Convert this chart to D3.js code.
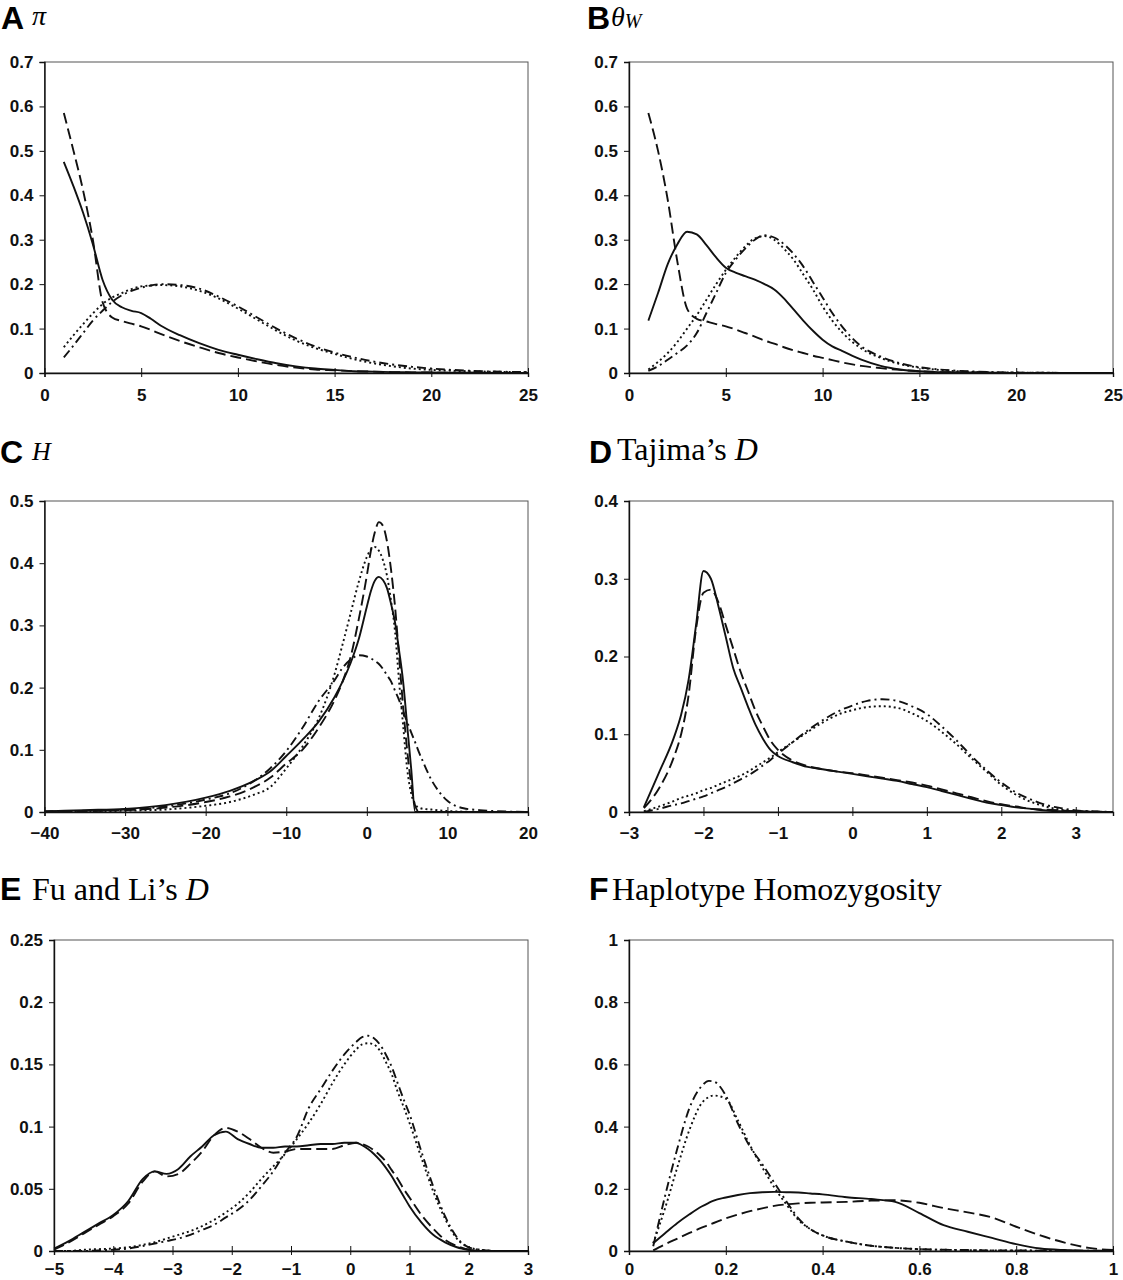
<!DOCTYPE html>
<html>
<head>
<meta charset="utf-8">
<script src="https://cdn.jsdelivr.net/npm/d3@7"></script>
<style>
  body { margin: 0; background: #fff; }
  .tick text { font-family: "Liberation Sans", Arial, sans-serif; font-size: 17px; font-weight: bold; fill: #111; }
</style>
</head>
<body>
<svg id="fig" width="1123" height="1280"></svg>
<script>
// ---- panel A : pi ----
const aX = [1,1.5,2,2.5,3,3.5,4,4.5,5,5.5,6,7,8,9,10,11,12,13,14,15,16,17,18,19,20,22,25];
const aSolid   = [0.475,0.42,0.36,0.29,0.21,0.165,0.148,0.14,0.135,0.122,0.107,0.085,0.067,0.052,0.041,0.031,0.022,0.015,0.01,0.007,0.004,0.003,0.002,0.0015,0.001,0.0005,0];
const aDashed  = [0.585,0.5,0.41,0.30,0.16,0.125,0.117,0.111,0.105,0.097,0.088,0.072,0.058,0.045,0.035,0.026,0.018,0.012,0.008,0.006,0.004,0.003,0.002,0.0015,0.001,0.0005,0];
const aDotted  = [0.058,0.085,0.11,0.134,0.155,0.17,0.18,0.189,0.195,0.197,0.198,0.195,0.185,0.168,0.145,0.12,0.095,0.073,0.056,0.043,0.031,0.022,0.015,0.01,0.007,0.004,0.002];
const aDashDot = [0.035,0.062,0.09,0.118,0.14,0.16,0.175,0.185,0.192,0.197,0.2,0.198,0.19,0.172,0.15,0.125,0.1,0.078,0.06,0.046,0.035,0.026,0.019,0.014,0.01,0.005,0.002];

// ---- panel B : theta W ----
const bX = [1,1.5,2,2.5,3,3.5,4,4.5,5,5.5,6,6.5,7,7.5,8,8.5,9,9.5,10,10.5,11,12,13,14,15,16,17,18,20,25];
const bSolid   = [0.118,0.18,0.245,0.29,0.318,0.312,0.288,0.26,0.237,0.226,0.218,0.21,0.2,0.188,0.168,0.143,0.118,0.095,0.075,0.06,0.05,0.03,0.016,0.008,0.004,0.002,0.0015,0.001,0,0];
const bDashed  = [0.585,0.5,0.39,0.25,0.145,0.122,0.116,0.11,0.105,0.098,0.09,0.082,0.073,0.066,0.058,0.051,0.045,0.039,0.034,0.029,0.024,0.016,0.011,0.007,0.004,0.002,0.0015,0.001,0,0];
const bDotted  = [0.008,0.025,0.045,0.07,0.1,0.13,0.165,0.2,0.232,0.26,0.285,0.303,0.308,0.3,0.28,0.255,0.222,0.188,0.15,0.118,0.092,0.055,0.034,0.02,0.012,0.007,0.004,0.002,0.001,0];
const bDashDot = [0.005,0.015,0.03,0.045,0.062,0.09,0.135,0.18,0.225,0.255,0.28,0.3,0.31,0.305,0.29,0.268,0.24,0.205,0.17,0.135,0.105,0.06,0.037,0.022,0.013,0.008,0.005,0.003,0.001,0];

// ---- panel C : H ----
const cX = [-40,-35,-30,-25,-20,-17,-14,-12,-10,-8,-6,-4,-3,-2,-1,0,0.5,1,1.5,2,2.5,3,3.5,4,4.5,5,5.5,6,6.5,7,8,9,10,11,12,14,16,18,20];
const cSolid   = [0.001,0.003,0.005,0.011,0.023,0.034,0.05,0.065,0.09,0.116,0.145,0.185,0.21,0.24,0.278,0.33,0.355,0.372,0.378,0.373,0.36,0.335,0.305,0.26,0.21,0.14,0.07,0,0,0,0,0,0,0,0,0,0,0,0];
const cDashed  = [0.0005,0.0015,0.003,0.007,0.016,0.025,0.04,0.055,0.078,0.1,0.135,0.18,0.21,0.25,0.31,0.38,0.42,0.45,0.466,0.46,0.435,0.39,0.33,0.25,0.17,0.1,0.045,0.01,0,0,0,0,0,0,0,0,0,0,0];
const cDotted  = [0.0003,0.001,0.002,0.004,0.01,0.016,0.028,0.04,0.07,0.105,0.15,0.222,0.27,0.32,0.37,0.41,0.422,0.426,0.42,0.405,0.38,0.34,0.29,0.21,0.14,0.07,0.03,0.012,0.007,0.005,0.004,0.0025,0.0015,0.001,0.0005,0,0,0,0];
const cDashDot = [0.001,0.002,0.004,0.009,0.02,0.03,0.05,0.07,0.098,0.135,0.178,0.212,0.232,0.245,0.252,0.25,0.247,0.243,0.238,0.23,0.22,0.21,0.195,0.18,0.162,0.145,0.128,0.112,0.095,0.08,0.052,0.032,0.018,0.01,0.006,0.003,0.0015,0.0005,0];

// ---- panel D : Tajima's D ----
const dX = [-2.8,-2.6,-2.4,-2.3,-2.2,-2.1,-2.0,-1.9,-1.8,-1.7,-1.6,-1.5,-1.4,-1.3,-1.2,-1.1,-1.0,-0.8,-0.6,-0.4,-0.2,0,0.2,0.4,0.6,0.8,1.0,1.2,1.4,1.6,1.8,2.0,2.2,2.4,2.6,2.8,3.0,3.2,3.5];
const dSolid   = [0.006,0.05,0.095,0.125,0.17,0.24,0.31,0.3,0.265,0.225,0.185,0.16,0.135,0.112,0.094,0.08,0.072,0.064,0.058,0.055,0.052,0.049,0.046,0.043,0.04,0.036,0.032,0.027,0.022,0.017,0.012,0.009,0.006,0.004,0.002,0.001,0.0005,0.0003,0];
const dDashed  = [0.005,0.03,0.07,0.1,0.15,0.235,0.282,0.286,0.27,0.24,0.21,0.18,0.155,0.13,0.11,0.092,0.08,0.066,0.059,0.055,0.052,0.05,0.047,0.044,0.041,0.038,0.034,0.029,0.024,0.019,0.014,0.01,0.007,0.004,0.003,0.002,0.001,0.0005,0];
const dDotted  = [0.001,0.007,0.014,0.018,0.021,0.024,0.028,0.031,0.035,0.039,0.043,0.047,0.052,0.058,0.064,0.07,0.077,0.09,0.103,0.115,0.125,0.131,0.135,0.136,0.134,0.127,0.117,0.103,0.087,0.069,0.052,0.035,0.022,0.013,0.007,0.003,0.001,0.0005,0];
const dDashDot = [0,0.004,0.009,0.011,0.014,0.017,0.02,0.024,0.028,0.032,0.037,0.042,0.047,0.053,0.06,0.067,0.075,0.09,0.105,0.118,0.129,0.137,0.143,0.145,0.143,0.136,0.126,0.11,0.092,0.072,0.054,0.038,0.025,0.016,0.009,0.005,0.002,0.001,0];

// ---- panel E : Fu and Li's D ----
const eX = [-5,-4.75,-4.5,-4.25,-4,-3.75,-3.5,-3.3,-3.1,-2.9,-2.7,-2.5,-2.3,-2.1,-1.9,-1.7,-1.5,-1.3,-1.1,-0.9,-0.7,-0.5,-0.3,-0.1,0.1,0.2,0.3,0.4,0.5,0.6,0.7,0.8,0.9,1.0,1.2,1.4,1.6,1.8,2.0,2.2,2.5,3];
const eSolid   = [0.002,0.008,0.015,0.022,0.029,0.04,0.058,0.064,0.062,0.066,0.076,0.084,0.093,0.096,0.09,0.086,0.083,0.083,0.084,0.084,0.085,0.086,0.086,0.087,0.087,0.085,0.082,0.078,0.073,0.067,0.06,0.052,0.044,0.036,0.023,0.013,0.007,0.003,0.001,0,0,0];
const eDashed  = [0.001,0.007,0.014,0.021,0.028,0.038,0.056,0.064,0.06,0.062,0.07,0.08,0.093,0.099,0.096,0.09,0.083,0.079,0.08,0.082,0.082,0.082,0.082,0.085,0.087,0.086,0.084,0.081,0.077,0.072,0.065,0.058,0.05,0.043,0.029,0.018,0.009,0.004,0.001,0,0,0];
const eDotted  = [0,0,0.001,0.0015,0.002,0.003,0.005,0.007,0.01,0.013,0.016,0.02,0.025,0.031,0.038,0.047,0.058,0.068,0.078,0.09,0.103,0.118,0.135,0.15,0.162,0.166,0.167,0.166,0.161,0.152,0.142,0.128,0.116,0.103,0.075,0.048,0.026,0.01,0.003,0.001,0,0];
const eDashDot = [0,0,0,0.0005,0.001,0.002,0.004,0.006,0.008,0.01,0.013,0.017,0.021,0.027,0.033,0.041,0.052,0.064,0.079,0.092,0.115,0.13,0.145,0.158,0.168,0.172,0.173,0.171,0.166,0.158,0.148,0.135,0.122,0.11,0.08,0.052,0.028,0.011,0.003,0.001,0,0];

// ---- panel F : haplotype homozygosity ----
const fX = [0.05,0.075,0.1,0.125,0.15,0.165,0.175,0.2,0.225,0.25,0.275,0.3,0.325,0.35,0.375,0.4,0.45,0.5,0.55,0.6,0.65,0.7,0.75,0.8,0.85,0.9,0.95,1.0];
const fSolid   = [0.025,0.058,0.09,0.118,0.143,0.155,0.162,0.172,0.18,0.186,0.189,0.19,0.189,0.188,0.185,0.182,0.173,0.167,0.158,0.122,0.083,0.062,0.042,0.022,0.008,0.003,0.001,0];
const fDashed  = [0.002,0.022,0.04,0.058,0.075,0.084,0.09,0.105,0.117,0.128,0.137,0.145,0.15,0.153,0.155,0.156,0.158,0.162,0.163,0.155,0.138,0.124,0.108,0.078,0.05,0.027,0.01,0.003];
const fDotted  = [0.025,0.14,0.27,0.39,0.475,0.495,0.5,0.49,0.42,0.34,0.27,0.205,0.15,0.1,0.07,0.05,0.03,0.017,0.01,0.006,0.004,0.003,0.002,0.002,0.001,0.001,0,0];
const fDashDot = [0.015,0.18,0.33,0.46,0.53,0.547,0.545,0.5,0.41,0.335,0.28,0.22,0.16,0.105,0.07,0.05,0.03,0.017,0.01,0.006,0.004,0.003,0.002,0.002,0.001,0.001,0.001,0.001];

// ---- axis ticks ----
const aXTicks = [0,5,10,15,20,25];
const aYTicks = [0,0.1,0.2,0.3,0.4,0.5,0.6,0.7];
const cXTicks = [-40,-30,-20,-10,0,10,20];
const cYTicks = [0,0.1,0.2,0.3,0.4,0.5];
const dXTicks = [-3,-2,-1,0,1,2,3];
const dYTicks = [0,0.1,0.2,0.3,0.4];
const eXTicks = [-5,-4,-3,-2,-1,0,1,2,3];
const eYTicks = [0,0.05,0.1,0.15,0.2,0.25];
const fXTicks = [0,0.2,0.4,0.6,0.8,1];
const fYTicks = [0,0.2,0.4,0.6,0.8,1];

const lineStyles = [
  { dash: null },          // solid
  { dash: "11,5" },        // dashed
  { dash: "2,3" },         // dotted
  { dash: "9,4,2,4" }      // dash-dot
];

const svg = d3.select("#fig");
const serif = "'Liberation Serif', 'Times New Roman', serif";
const sansBold = "'Liberation Sans', Arial, sans-serif";

function drawPanel(p) {
  const g = svg.append("g");

  const x = d3.scaleLinear().domain(p.xDomain).range([p.left, p.right]);
  const y = d3.scaleLinear().domain(p.yDomain).range([p.bottom, p.top]);

  // frame
  g.append("rect")
    .attr("x", p.left).attr("y", p.top)
    .attr("width", p.right - p.left).attr("height", p.bottom - p.top)
    .attr("fill", "none")
    .attr("stroke", "#555")
    .attr("stroke-width", 1);

  // series
  const line = d3.line()
    .x(d => x(d[0]))
    .y(d => y(d[1]))
    .curve(d3.curveMonotoneX);

  p.series.forEach((vals, i) => {
    const pts = p.xs.map((xv, j) => [xv, vals[j]]);
    g.append("path")
      .datum(pts)
      .attr("d", line)
      .attr("fill", "none")
      .attr("stroke", "#111")
      .attr("stroke-width", 1.9)
      .attr("stroke-dasharray", lineStyles[i].dash);
  });

  // axes
  g.append("g")
    .attr("transform", `translate(0,${p.bottom})`)
    .call(d3.axisBottom(x).tickValues(p.xTicks).tickSize(4).tickPadding(p.xPad)
      .tickFormat(d3.format("~g")))
    .call(a => a.select(".domain").attr("stroke", "#111").attr("stroke-width", 1.4))
    .call(a => a.selectAll(".tick line").attr("y1", -5).attr("stroke", "#111"));

  g.append("g")
    .attr("transform", `translate(${p.left},0)`)
    .call(d3.axisLeft(y).tickValues(p.yTicks).tickSize(5).tickPadding(6)
      .tickFormat(d3.format("~g")))
    .call(a => a.select(".domain").attr("stroke", "#111").attr("stroke-width", 1.4))
    .call(a => a.selectAll(".tick line").attr("stroke", "#111"));

  // title
  svg.append("text")
    .attr("x", p.titleX).attr("y", p.titleY)
    .style("font-family", sansBold)
    .style("font-weight", "bold")
    .style("font-size", "32px")
    .text(p.letter);

  const t = svg.append("text")
    .attr("x", p.labelX).attr("y", p.titleY)
    .style("font-family", serif)
    .style("font-size", "32px");
  p.label.forEach(part => {
    t.append("tspan")
      .attr("dy", part.dy || 0)
      .style("font-style", part.italic ? "italic" : "normal")
      .style("font-size", part.size ? part.size + "px" : null)
      .text(part.text);
  });
}

drawPanel({
  letter: "A", titleX: 1, titleY: 29, labelX: 32,
  label: [{ text: "π", italic: true, size: 28, dy: -4 }],
  left: 44.5, right: 528, top: 62, bottom: 373, xPad: 12,
  xDomain: [0, 25], yDomain: [0, 0.7], xTicks: aXTicks, yTicks: aYTicks,
  xs: aX, series: [aSolid, aDashed, aDotted, aDashDot]
});

drawPanel({
  letter: "B", titleX: 587, titleY: 29, labelX: 611,
  label: [{ text: "θ", italic: true, size: 28, dy: -3 }, { text: "W", italic: true, size: 20, dy: 2 }],
  left: 629, right: 1113, top: 62, bottom: 373, xPad: 12,
  xDomain: [0, 25], yDomain: [0, 0.7], xTicks: aXTicks, yTicks: aYTicks,
  xs: bX, series: [bSolid, bDashed, bDotted, bDashDot]
});

drawPanel({
  letter: "C", titleX: 0, titleY: 463, labelX: 32,
  label: [{ text: "H", italic: true, size: 26, dy: -3 }],
  left: 44.5, right: 528, top: 501, bottom: 812, xPad: 11,
  xDomain: [-40, 20], yDomain: [0, 0.5], xTicks: cXTicks, yTicks: cYTicks,
  xs: cX, series: [cSolid, cDashed, cDotted, cDashDot]
});

drawPanel({
  letter: "D", titleX: 589, titleY: 463, labelX: 617,
  label: [{ text: "Tajima’s ", dy: -3 }, { text: "D", italic: true }],
  left: 629, right: 1113, top: 501, bottom: 812, xPad: 11,
  xDomain: [-3, 3.5], yDomain: [0, 0.4], xTicks: dXTicks, yTicks: dYTicks,
  xs: dX, series: [dSolid, dDashed, dDotted, dDashDot]
});

drawPanel({
  letter: "E", titleX: 0, titleY: 900, labelX: 32,
  label: [{ text: "Fu and Li’s " }, { text: "D", italic: true }],
  left: 54, right: 528, top: 940, bottom: 1251, xPad: 8,
  xDomain: [-5, 3], yDomain: [0, 0.25], xTicks: eXTicks, yTicks: eYTicks,
  xs: eX, series: [eSolid, eDashed, eDotted, eDashDot]
});

drawPanel({
  letter: "F", titleX: 589, titleY: 900, labelX: 612,
  label: [{ text: "Haplotype Homozygosity" }],
  left: 629, right: 1113, top: 940, bottom: 1251, xPad: 8,
  xDomain: [0, 1], yDomain: [0, 1], xTicks: fXTicks, yTicks: fYTicks,
  xs: fX, series: [fSolid, fDashed, fDotted, fDashDot]
});
</script>
</body>
</html>
